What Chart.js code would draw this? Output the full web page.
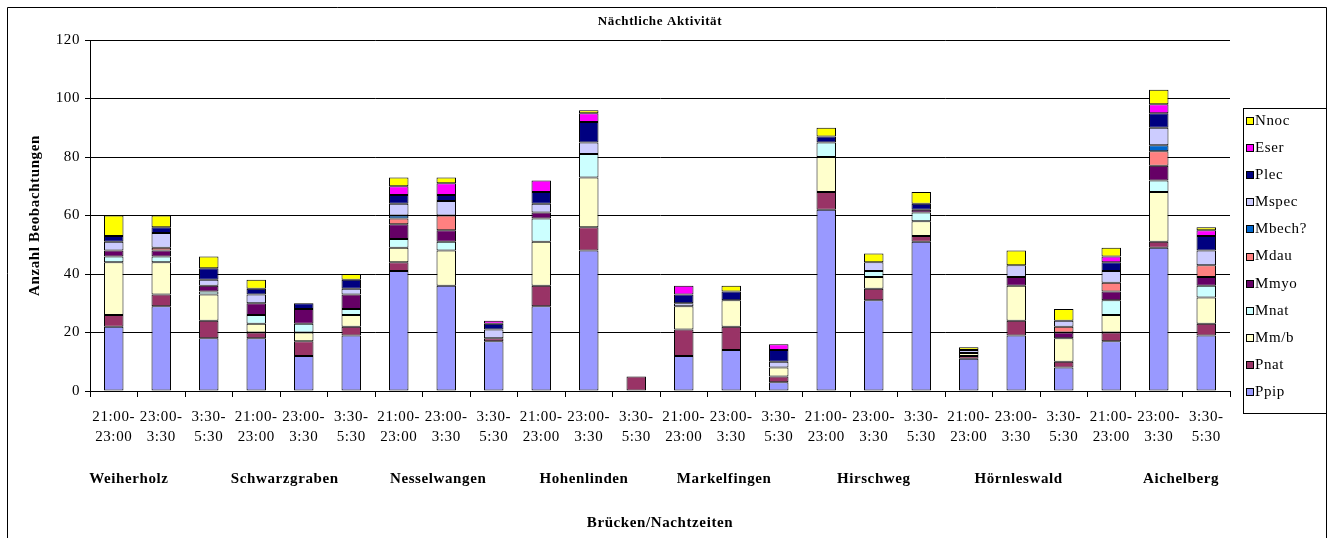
<!DOCTYPE html>
<html>
<head>
<meta charset="utf-8">
<title>Nächtliche Aktivität</title>
<script src="https://cdn.jsdelivr.net/npm/chart.js@4.4.0/dist/chart.umd.min.js"></script>
<style>
  html, body { margin: 0; padding: 0; background: #fff; }
  canvas { display: block; }
</style>
</head>
<body>
<canvas id="chart" width="1334" height="538"></canvas>
<script>
// ---- data -------------------------------------------------------------
const sites = ["Weiherholz", "Schwarzgraben", "Nesselwangen", "Hohenlinden",
               "Markelfingen", "Hirschweg", "Hörnleswald", "Aichelberg"];
const timeSlots = [["21:00-", "23:00"], ["23:00-", "3:30"], ["3:30-", "5:30"]];
const yTickValues = [0, 20, 40, 60, 80, 100, 120];

// counts per bridge and time slot (3 slots per bridge, in site order)
const ppip  = [22, 29, 18, 18, 12, 19, 41, 36, 17, 29, 48, 0, 12, 14, 3, 62, 31, 51, 11, 19, 8, 17, 49, 19];
const pnat  = [ 4,  4,  6,  2,  5,  3,  3,  0,  1,  7,  8, 5,  9,  8, 2,  6,  4,  2,  1,  5, 2,  3,  2,  4];
const mmb   = [18, 11,  9,  3,  3,  4,  5, 12,  0, 15, 17, 0,  8,  9, 3, 12,  4,  5,  1, 12, 8,  6, 17,  9];
const mnat  = [ 2,  2,  1,  3,  3,  2,  3,  3,  0,  8,  8, 0,  0,  0, 0,  5,  2,  3,  0,  0, 0,  5,  4,  4];
const mmyo  = [ 2,  2,  2,  4,  5,  5,  5,  4,  0,  2,  0, 0,  0,  0, 0,  0,  0,  1,  0,  3, 2,  3,  5,  3];
const mdau  = [ 0,  1,  0,  0,  0,  0,  2,  5,  0,  0,  0, 0,  0,  0, 0,  0,  0,  0,  0,  0, 2,  3,  5,  4];
const mbech = [ 0,  0,  0,  0,  0,  0,  1,  0,  0,  0,  0, 0,  0,  0, 0,  0,  0,  0,  0,  0, 0,  0,  2,  0];
const mspec = [ 3,  5,  2,  3,  0,  2,  4,  5,  3,  3,  4, 0,  1,  0, 2,  0,  3,  0,  1,  4, 2,  4,  6,  5];
const plec  = [ 2,  2,  4,  2,  2,  3,  3,  2,  2,  4,  7, 0,  3,  3, 4,  2,  0,  2,  0,  0, 0,  3,  5,  5];
const eser  = [ 0,  0,  0,  0,  0,  0,  3,  4,  1,  4,  3, 0,  3,  0, 2,  0,  0,  0,  0,  0, 0,  2,  3,  2];
const nnoc  = [ 7,  4,  4,  3,  0,  2,  3,  2,  0,  0,  1, 0,  0,  2, 0,  3,  3,  4,  1,  5, 4,  3,  5,  1];

// stacking order, bottom to top
const seriesNames  = ["Ppip", "Pnat", "Mm/b", "Mnat", "Mmyo", "Mdau", "Mbech?", "Mspec", "Plec", "Eser", "Nnoc"];
const seriesValues = [ppip, pnat, mmb, mnat, mmyo, mdau, mbech, mspec, plec, eser, nnoc];

// ---- styling ----------------------------------------------------------
const seriesColors = ["#9999FF", "#993366", "#FFFFCC", "#CCFFFF", "#660066", "#FF8080",
                      "#0066CC", "#CCCCFF", "#000080", "#FF00FF", "#FFFF00"];
const SERIF = "'Liberation Serif', 'Times New Roman', Times, serif";
const SPACING = '0.6px';

const categories = sites.flatMap(() => timeSlots);

const datasets = seriesNames.map((name, i) => ({
  label: name,
  data: seriesValues[i].map(v => (v === 0 ? null : v)),
  backgroundColor: seriesColors[i],
  borderColor: '#000',
  borderWidth: 1,
  borderSkipped: false,
  barPercentage: 0.41,
  categoryPercentage: 1.0,
  stack: 'all'
}));

// title, bridge names under the time slots, legend box and outer frame
const decorations = {
  id: 'decorations',
  beforeLayout(chart) { chart.ctx.letterSpacing = SPACING; },
  beforeDraw(chart) {
    const { ctx, width, height } = chart;
    ctx.save();
    ctx.fillStyle = '#fff';
    ctx.fillRect(0, 0, width, height);
    ctx.restore();
    ctx.letterSpacing = SPACING;
  },
  afterDraw(chart, args, opts) {
    const { ctx, chartArea } = chart;
    const xs = chart.scales.x;
    ctx.save();
    ctx.fillStyle = '#000';
    ctx.textAlign = 'center';
    ctx.textBaseline = 'middle';

    ctx.font = `bold 13px ${SERIF}`;
    ctx.fillText(opts.title, (chartArea.left + chartArea.right) / 2, opts.titleY);

    ctx.font = `bold 15px ${SERIF}`;
    sites.forEach((s, i) => ctx.fillText(s, xs.getPixelForValue(opts.siteAnchor[i]), opts.siteY));

    // legend: top entry is the top of the stack
    const lg = opts.legend;
    ctx.strokeStyle = '#000';
    ctx.lineWidth = 1;
    ctx.strokeRect(lg.left + 0.5, lg.top + 0.5, lg.width, lg.height);
    ctx.font = `15px ${SERIF}`;
    ctx.textAlign = 'left';
    const ds = chart.data.datasets.slice().reverse();
    ds.forEach((d, i) => {
      const cy = lg.firstY + i * lg.step;
      ctx.fillStyle = d.backgroundColor;
      ctx.fillRect(lg.left + 3, Math.round(cy - 4), 7, 7);
      ctx.strokeRect(lg.left + 3.5, Math.round(cy - 4) + 0.5, 7, 7);
      ctx.fillStyle = '#000';
      ctx.fillText(d.label, lg.left + 12, cy);
    });

    // outer frame
    ctx.beginPath();
    ctx.moveTo(7.5, chart.height + 2);
    ctx.lineTo(7.5, 7.5);
    ctx.lineTo(chart.width - 7.5, 7.5);
    ctx.lineTo(chart.width - 7.5, chart.height + 2);
    ctx.stroke();
    ctx.restore();
  }
};

new Chart(document.getElementById('chart'), {
  type: 'bar',
  data: { labels: categories, datasets },
  plugins: [decorations],
  options: {
    responsive: false,
    animation: false,
    devicePixelRatio: 1,
    layout: { padding: { top: 40, right: 104, bottom: 0, left: 0 } },
    plugins: {
      legend: { display: false },
      tooltip: { enabled: false },
      title: { display: false },
      decorations: {
        title: 'Nächtliche Aktivität',
        titleY: 22,
        siteY: 479,
        siteAnchor: [0.32, 3.6, 6.83, 9.9, 12.85, 16.0, 19.05, 22.47],
        legend: { left: 1243, top: 108, width: 83, height: 305, firstY: 121, step: 27.1 }
      }
    },
    scales: {
      x: {
        stacked: true,
        offset: true,
        afterFit: s => { s.height = 147; },
        grid: { offset: true, drawOnChartArea: false, color: '#000', tickLength: 6, lineWidth: 1 },
        border: { display: true, color: '#000', width: 1 },
        ticks: {
          color: '#000',
          autoSkip: false,
          maxRotation: 0,
          padding: 10,
          font: { family: SERIF, size: 15, lineHeight: '20px' }
        },
        title: {
          display: true,
          text: 'Brücken/Nachtzeiten',
          color: '#000',
          font: { family: SERIF, size: 15, weight: 'bold', lineHeight: 1.2 },
          padding: { top: 0, bottom: 6 }
        }
      },
      y: {
        stacked: true,
        min: 0,
        max: 120,
        afterFit: s => { s.width = 90; },
        afterBuildTicks: s => { s.ticks = yTickValues.map(v => ({ value: v })); },
        grid: { color: '#000', lineWidth: 1, tickLength: 5 },
        border: { display: true, color: '#000', width: 1 },
        ticks: {
          color: '#000',
          padding: 5,
          font: { family: SERIF, size: 15 }
        },
        title: {
          display: true,
          text: 'Anzahl Beobachtungen',
          color: '#000',
          font: { family: SERIF, size: 15, weight: 'bold', lineHeight: 1.2 },
          padding: { top: 26, bottom: 0 }
        }
      }
    }
  }
});
</script>
</body>
</html>
